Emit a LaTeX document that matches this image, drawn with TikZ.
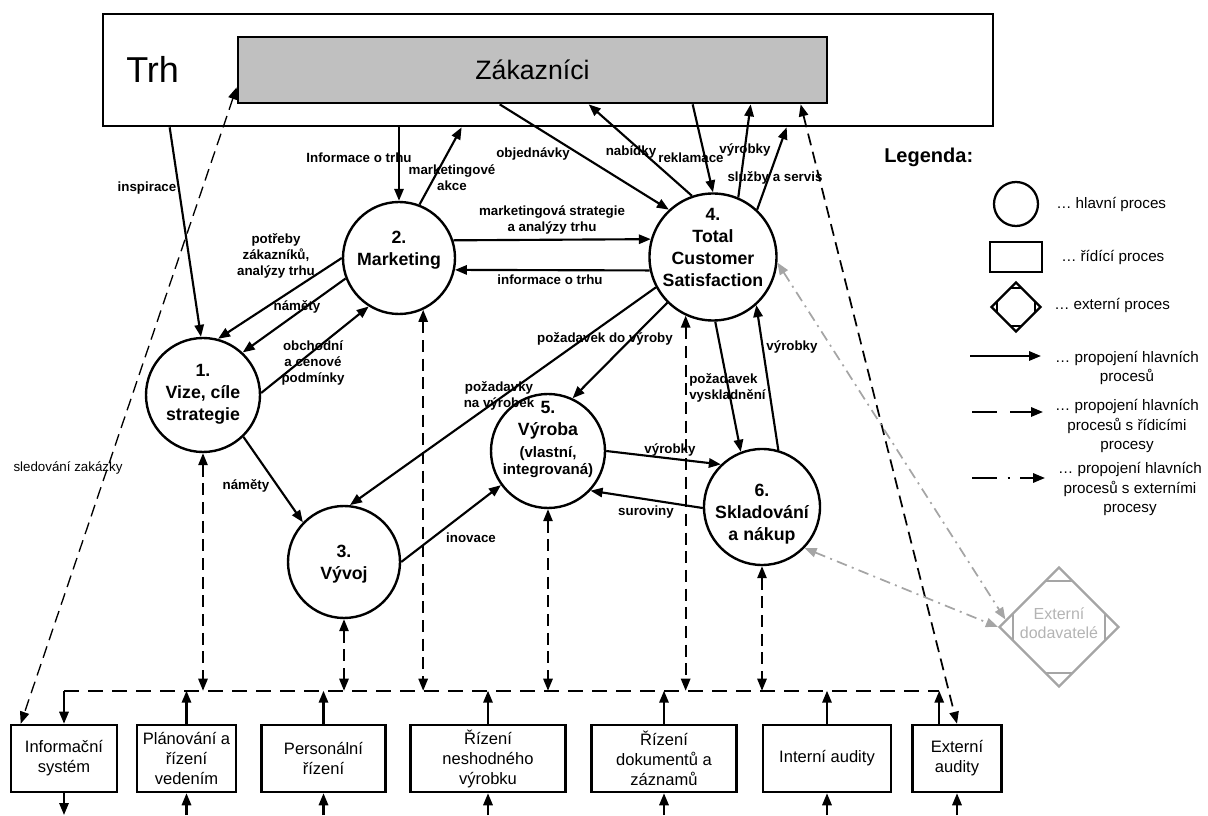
\documentclass[tikz,border=0pt]{standalone}
\usepackage{fontspec}
\setmainfont{Liberation Sans}
\usetikzlibrary{arrows.meta,calc,shapes.geometric}
\newcommand\labfont{\bfseries\fontsize{10}{12}\selectfont}
\newcommand\cirfont{\bfseries\fontsize{13.3}{16.5}\selectfont}
\newcommand\boxfont{\fontsize{12.4}{15}\selectfont}
\newcommand\legfont{\fontsize{11.4}{14.6}\selectfont}
\definecolor{zgray}{RGB}{192,192,192}
\definecolor{egray}{RGB}{165,165,165}
\definecolor{etext}{RGB}{180,180,180}
\tikzset{
  proc/.style={circle, draw, line width=1.8pt, minimum size=#1, inner sep=0pt},
  ctext/.style={font=\cirfont, align=center, inner sep=0pt},
  ctl/.style={draw, line width=1.9pt, align=center, inner sep=0pt, minimum height=50.25pt, font=\boxfont},
  lab/.style={font=\labfont, align=center, inner sep=0pt},
  legt/.style={font=\legfont, align=center, inner sep=0pt},
  conn/.style={line width=1.6pt, ->},
  dconn/.style={line width=1.3pt, dash pattern=on 9pt off 5pt, <->},
  dbus/.style={line width=1.3pt, dash pattern=on 11pt off 7pt},
  gconn/.style={draw=egray, line width=1.3pt, dash pattern=on 8pt off 4pt on 1.5pt off 4pt, <->},
  cutline/.style={line width=1.7pt}
}
\begin{document}
\begin{tikzpicture}[x=0.75pt,y=-0.75pt,>={Triangle[length=9pt,width=7pt]}]
\useasboundingbox (0,0) rectangle (1208,816);

% ---------- market ----------
\node[draw, line width=2pt, minimum width=667.5pt, minimum height=84pt] (trh) at (548,70) {};
\node[draw, fill=zgray, line width=2pt, minimum width=441.75pt, minimum height=49.5pt] (zak) at (532.5,70) {};
\node[anchor=west, inner sep=0pt, font=\fontsize{27}{30}\selectfont] (trhT) at (126,69) {Trh};
\node[inner sep=0pt, font=\fontsize{20}{24}\selectfont] (zakT) at (532.5,70) {Zákazníci};

% ---------- main processes ----------
\node[proc=85.5pt] (vize) at (203,395) {};
\node[proc=84pt] (mkt) at (399,258) {};
\node[proc=84pt] (vyvoj) at (344,562) {};
\node[proc=95.25pt] (tcs) at (713,257) {};
\node[proc=85.5pt] (vyroba) at (548,451) {};
\node[proc=87pt] (sklad) at (762,507) {};

\node[ctext] (vizeT) at (203,394) {1.\\Vize, cíle\\strategie};
\node[ctext] (mktT) at (399,250) {2.\\Marketing};
\node[ctext] (vyvojT) at (344,564) {3.\\Vývoj};
\node[ctext] (tcsT) at (713,247) {4.\\Total\\Customer\\Satisfaction};
\node[ctext] (vyrobaT) at (548,420) {5.\\Výroba};
\node[ctext, font=\bfseries\fontsize{11.3}{13}\selectfont] (vyrobaT2) at (548,462) {(vlastní,\\integrovaná)};
\node[ctext] (skladT) at (762,514) {6.\\Skladování\\a nákup};

% ---------- control processes ----------
\node[ctl, minimum width=79.5pt] (info) at (64,758.5) {Informační\\systém};
\node[ctl, minimum width=74.25pt] (plan) at (186.5,758.5) {Plánování a\\řízení\\vedením};
\node[ctl, minimum width=93pt] (pers) at (323.5,758.5) {Personální\\řízení};
\node[ctl, minimum width=116.25pt] (nesh) at (488,758.5) {Řízení\\neshodného\\výrobku};
\node[ctl, minimum width=108.75pt] (dok) at (664,758.5) {Řízení\\dokumentů a\\záznamů};
\node[ctl, minimum width=96pt] (int) at (827,758.5) {Interní audity};
\node[ctl, minimum width=66.75pt] (ext) at (957,758.5) {Externí\\audity};

% ---------- external process ----------
\node[diamond, draw=egray, line width=1.7pt, minimum width=90pt, minimum height=90pt, inner sep=0pt] (extd) at (1059,627) {};
\node[inner sep=0pt, align=center, text=etext, font=\fontsize{12}{14.5}\selectfont] (extdT) at (1059,623) {Externí\\dodavatelé};
\draw[cutline, egray] ($(extd.north)+(-14,15)$) -- ($(extd.north)+(14,15)$);
\draw[cutline, egray] ($(extd.south)+(-14,-15)$) -- ($(extd.south)+(14,-15)$);
\draw[cutline, egray] ($(extd.west)+(15,-14)$) -- ($(extd.west)+(15,14)$);
\draw[cutline, egray] ($(extd.east)+(-15,-14)$) -- ($(extd.east)+(-15,14)$);

% ---------- border points ----------
\coordinate (tI) at ($(trh.south west)+(68,0)$);
\coordinate (tAkce) at ($(trh.south west)+(360,0)$);
\coordinate (tSluz) at ($(trh.south west)+(685,0)$);
\coordinate (gObj) at ($(zak.south west)+(263,0)$);
\coordinate (gNab) at ($(zak.south west)+(352,0)$);
\coordinate (gRek) at ($(zak.south west)+(456,0)$);
\coordinate (gVyr) at ($(zak.south west)+(514,0)$);
\coordinate (gExt) at ($(zak.south west)+(564,0)$);
\coordinate (gSled) at ($(zak.south west)+(0,-17)$);

% ---------- connectors to market ----------
\draw[conn] (tI) -- (vize.92);
\draw[conn] (mkt.north |- trh.south) -- (mkt.north);
\draw[conn] (mkt.69) -- (tAkce);
\draw[conn] (gObj) -- (tcs.133);
\draw[conn] (tcs.109) -- (gNab);
\draw[conn] (gRek) -- (tcs.90);
\draw[conn] (tcs.67) -- (gVyr);
\draw[conn] (tcs.47) -- (tSluz);

% ---------- connectors between main processes ----------
\draw[conn] (mkt.180) -- (vize.75);
\draw[conn] (mkt.201) -- (vize.47);
\draw[conn] (vize.2) -- (mkt.238);
\draw[conn] (vize.314) -- (vyvoj.136);
\draw[conn] (mkt.18) -- (tcs.164);
\draw[conn] (tcs.192) -- (mkt.348);
\draw[conn] (tcs.225) -- (vyroba.65);
\draw[conn] (tcs.208) -- (vyvoj.84);
\draw[conn] (vyvoj.0) -- (vyroba.216);
\draw[conn] (vyroba.0) -- (sklad.134);
\draw[conn] (sklad.181) -- (vyroba.317);
\draw[conn] (tcs.272) -- (sklad.111);
\draw[conn] (sklad.74) -- (tcs.312);

% ---------- labels ----------
\node[lab] (lInsp) at (147,188) {inspirace};
\node[lab] (lInfo) at (359,158) {Informace o trhu};
\node[lab] (lAkce) at (452,178) {marketingové\\akce};
\node[lab] (lObj) at (533,154) {objednávky};
\node[lab] (lNab) at (631,152) {nabídky};
\node[lab] (lRek) at (691,158) {reklamace};
\node[lab] (lVyr1) at (745,150) {výrobky};
\node[lab] (lSluz) at (775,178) {služby a servis};
\node[lab] (lPotr) at (276,256) {potřeby\\zákazníků,\\analýzy trhu};
\node[lab] (lNam1) at (297,307) {náměty};
\node[lab] (lObch) at (313,363) {obchodní\\a cenové\\podmínky};
\node[lab] (lNam2) at (246,486) {náměty};
\node[lab] (lMkS) at (552,220) {marketingová strategie\\a analýzy trhu};
\node[lab] (lInf2) at (550,280) {informace o trhu};
\node[lab] (lPozV) at (605,339) {požadavek do výroby};
\node[lab] (lPozVyr) at (499,396) {požadavky\\na výrobek};
\node[lab] (lIno) at (471,538) {inovace};
\node[lab] (lVyr2) at (670,450) {výrobky};
\node[lab] (lSur) at (646,512) {suroviny};
\node[lab, align=left, anchor=west] (lVysk) at (689,388) {požadavek\\vyskladnění};
\node[lab] (lVyr3) at (792,347) {výrobky};
\node[inner sep=0pt, font=\fontsize{10}{12}\selectfont] (lSled) at (68,468) {sledování zakázky};

% ---------- bus of control processes ----------
\coordinate (busL) at ($(info.north)+(0,-33)$);
\coordinate (busR) at ($(busL -| ext.north west)+(28,0)$);
\coordinate (bot) at (0,815);
\draw[dbus] (busL) -- (busR);
\draw[conn] (busL) -- (info.north);
\foreach \n in {plan,pers,nesh,dok,int}{
  \draw[conn] (\n.north) -- (\n.north |- busL);
}
\draw[conn] (busR |- ext.north) -- (busR);
\draw[conn] (info.south) -- (info.south |- bot);
\foreach \n in {plan,pers,nesh,dok,int,ext}{
  \draw[conn] (\n.south |- bot) -- (\n.south);
}

% dashed links main processes <-> control processes
\draw[dconn] (vize.south) -- (vize.south |- busL);
\draw[dconn] (mkt.295) -- (mkt.295 |- busL);
\draw[dconn] (vyvoj.south) -- (vyvoj.south |- busL);
\draw[dconn] (vyroba.south) -- (vyroba.south |- busL);
\draw[dconn] (tcs.245) -- (tcs.245 |- busL);
\draw[dconn] (sklad.south) -- (sklad.south |- busL);
\draw[dconn, line width=1pt] (gSled) -- ($(info.north west)+(11,0)$);
\draw[dconn] (gExt) -- (ext.north);

% ---------- external links ----------
\draw[gconn] (sklad.316) -- (extd.west);
\draw[gconn] (tcs.355) -- (extd.172);

% ---------- legend ----------
\node[anchor=west, inner sep=0pt, font=\bfseries\fontsize{15}{18}\selectfont] (legT) at (884,157) {Legenda:};
\node[circle, draw, line width=1.7pt, minimum size=33pt, inner sep=0pt] (legC) at (1016,204) {};
\node[draw, line width=1.7pt, minimum width=39pt, minimum height=22.5pt, inner sep=0pt] (legR) at (1016,257) {};
\node[diamond, draw, line width=1.7pt, minimum width=37.5pt, minimum height=37.5pt, inner sep=0pt] (legD) at (1016,307) {};
\draw[line width=1.2pt] ($(legD.north)+(-6,7)$) -- ($(legD.north)+(6,7)$);
\draw[line width=1.2pt] ($(legD.south)+(-6,-7)$) -- ($(legD.south)+(6,-7)$);
\draw[line width=1.2pt] ($(legD.west)+(7,-6)$) -- ($(legD.west)+(7,6)$);
\draw[line width=1.2pt] ($(legD.east)+(-7,-6)$) -- ($(legD.east)+(-7,6)$);
\coordinate (la1) at (970,356);
\coordinate (la2) at (1041,356);
\coordinate (lb1) at (972,412);
\coordinate (lb2) at (1043,412);
\coordinate (lc1) at (972,478);
\coordinate (lc2) at (1045,478);
\draw[line width=1.6pt, ->] (la1) -- (la2);
\draw[line width=1.6pt, dash pattern=on 18.75pt off 9.75pt, ->] (lb1) -- (lb2);
\draw[line width=1.6pt, dash pattern=on 18.75pt off 8pt on 1.5pt off 8pt, ->] (lc1) -- (lc2);
\node[legt, anchor=west] (lg1) at (1056,204) {… hlavní proces};
\node[legt, anchor=west] (lg2) at (1061,257) {… řídící proces};
\node[legt, anchor=west] (lg3) at (1054,305) {… externí proces};
\node[legt] (lg4) at (1127,368) {… propojení hlavních\\procesů};
\node[legt] (lg5) at (1127,426) {… propojení hlavních\\procesů s řídicími\\procesy};
\node[legt] (lg6) at (1130,489) {… propojení hlavních\\procesů s externími\\procesy};
\end{tikzpicture}
\end{document}
